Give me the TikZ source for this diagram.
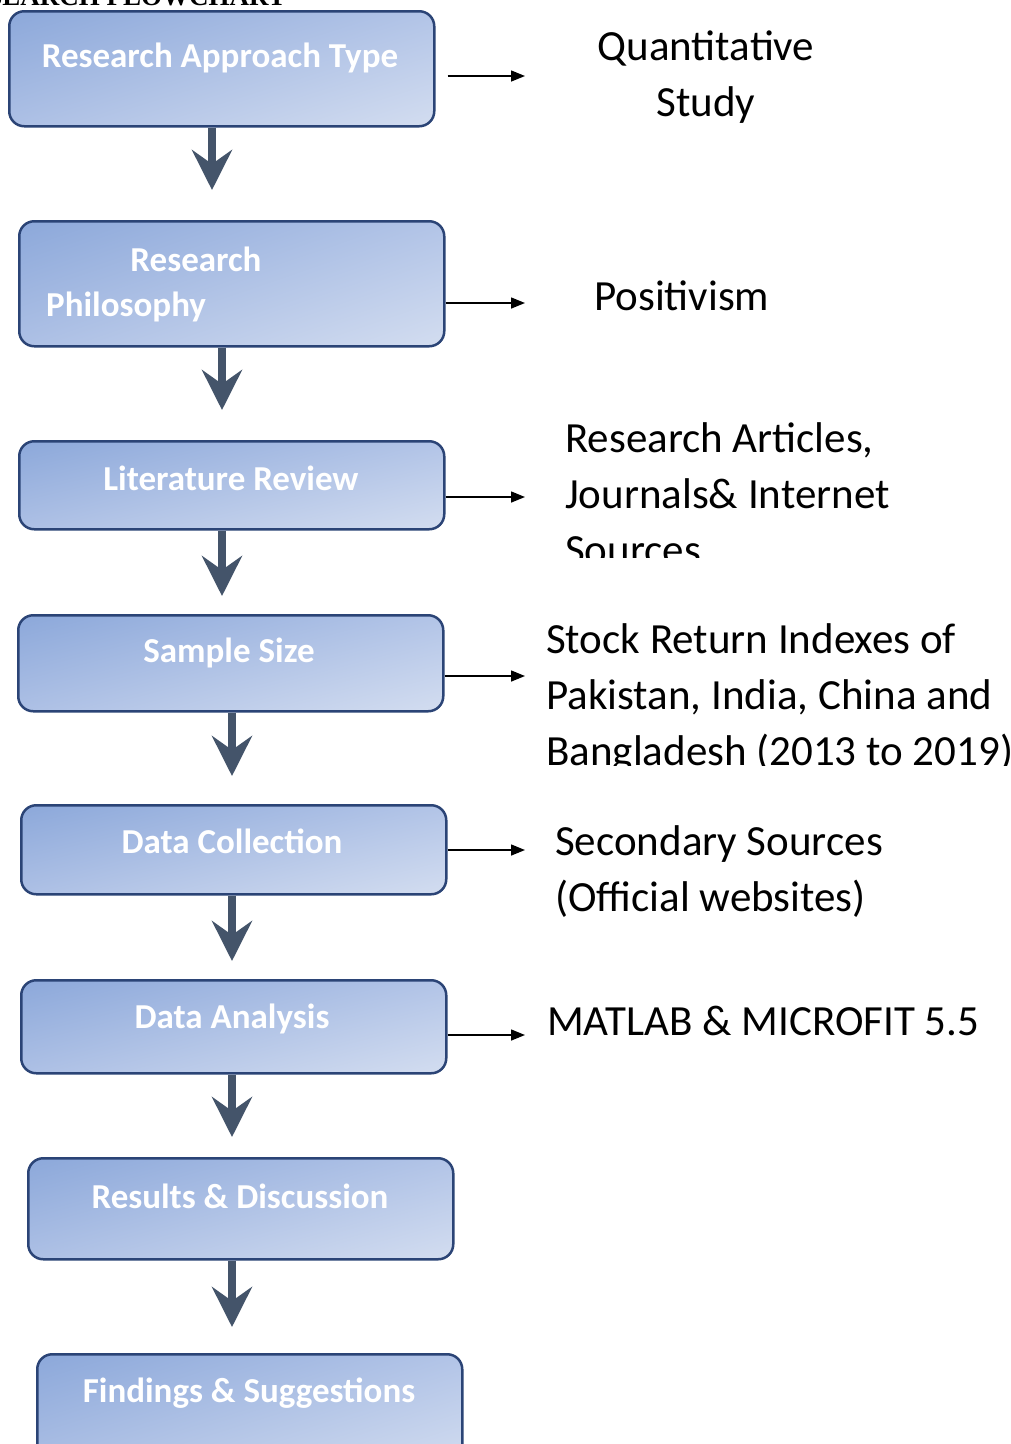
\documentclass[tikz,border=0pt]{standalone}
\usepackage{fontspec}
\setmainfont{Carlito}
\newfontfamily\titlefont{Liberation Serif}
\usetikzlibrary{arrows.meta,calc,shadings}
\definecolor{boxborder}{HTML}{2B4476}
\definecolor{boxul}{HTML}{8CA8DA}
\definecolor{boxur}{HTML}{B2C4E7}
\definecolor{boxll}{HTML}{ADC0E5}
\definecolor{boxlr}{HTML}{D3DDF0}
\definecolor{darrow}{HTML}{44546A}
\begin{document}
\begin{tikzpicture}[x=1pt,y=-1pt,
 box/.style={draw=boxborder, line width=2.5pt, rounded corners=15pt, upper left=boxul, upper right=boxur, lower left=boxll, lower right=boxlr, inner sep=0pt, anchor=north west, minimum width=425pt},
 lbl/.style={text=white, font=\bfseries\fontsize{35}{44}\selectfont, inner sep=0pt},
 rtxt/.style={font=\fontsize{43}{56}\selectfont, inner sep=0pt, anchor=base west},
 down/.style={draw=darrow, line width=8pt, -{Stealth[length=40pt,width=40pt,inset=14pt]}},
 sidearrow/.style={draw=black, line width=1.5pt, -{Triangle[length=14pt,width=11pt]}}
]
\useasboundingbox (0,0) rectangle (1011,1444);
\fill[white] (0,0) rectangle (1011,1444);

\node[font=\titlefont\bfseries\fontsize{27}{32}\selectfont, anchor=base east, inner sep=0pt] (title) at (286,5) {RESEARCH FLOWCHART};

% boxes
\node[box, minimum height=115pt] (b1) at (8,10) {};
\node[box, minimum height=125pt] (b2) at (18,220) {};
\node[box, minimum height=88pt] (b3) at (18,440) {};
\node[box, minimum height=96pt] (b4) at (17,614) {};
\node[box, minimum height=89pt] (b5) at (20,804) {};
\node[box, minimum height=93pt] (b6) at (20,979) {};
\node[box, minimum height=101pt] (b7) at (27,1157) {};
\node[box, minimum height=115pt] (b8) at (36,1353) {};

% labels
\node[lbl, anchor=base] (l1) at (220,67) {Research Approach Type};
\node[lbl, anchor=base] (l2a) at (196,271) {Research};
\node[lbl, anchor=base west] (l2b) at (46,316) {Philosophy};
\node[lbl, anchor=base] (l3) at (231,490) {Literature Review};
\node[lbl, anchor=base] (l4) at (229,662) {Sample Size};
\node[lbl, anchor=base] (l5) at (232,853) {Data Collection};
\node[lbl, anchor=base] (l6) at (232,1028) {Data Analysis};
\node[lbl, anchor=base] (l7) at (240,1208) {Results \& Discussion};
\node[lbl, anchor=base] (l8) at (249,1402) {Findings \& Suggestions};

% down arrows
\coordinate (t1) at (212,190);
\coordinate (t2) at (222,410);
\coordinate (t3) at (222,596);
\coordinate (t4) at (232,776);
\coordinate (t5) at (232,961);
\coordinate (t6) at (232,1137);
\coordinate (t7) at (232,1327);
\draw[down] (b1.south -| t1) -- (t1);
\draw[down] (b2.south -| t2) -- (t2);
\draw[down] (b3.south -| t3) -- (t3);
\draw[down] (b4.south -| t4) -- (t4);
\draw[down] (b5.south -| t5) -- (t5);
\draw[down] (b6.south -| t6) -- (t6);
\draw[down] (b7.south -| t7) -- (t7);

% side arrows
\coordinate (s1) at (525,76);
\coordinate (s2) at (525,303);
\coordinate (s3) at (525,497);
\coordinate (s4) at (525,676);
\coordinate (s5) at (525,850);
\coordinate (s6) at (525,1035);
\draw[sidearrow] ($(b1.east |- s1)+(12,0)$) -- (s1);
\draw[sidearrow] (b2.east |- s2) -- (s2);
\draw[sidearrow] (b3.east |- s3) -- (s3);
\draw[sidearrow] (b4.east |- s4) -- (s4);
\draw[sidearrow] (b5.east |- s5) -- (s5);
\draw[sidearrow] (b6.east |- s6) -- (s6);

% right texts
\node[rtxt, anchor=base] (r1a) at (706,60) {Quantitative};
\node[rtxt, anchor=base] (r1b) at (706,116) {Study};
\node[rtxt] (r2) at (594,310) {Positivism};
\node[rtxt] (r3a) at (565,452) {Research Articles,};
\node[rtxt] (r3b) at (565,508) {Journals\& Internet};
\begin{scope}
\clip (540,520) rectangle (1011,557);
\node[rtxt] (r3c) at (565,564) {Sources};
\end{scope}
\node[rtxt] (r4a) at (546,653) {Stock Return Indexes of};
\node[rtxt] (r4b) at (546,709) {Pakistan, India, China and};
\begin{scope}
\clip (530,720) rectangle (1011,765);
\node[rtxt] (r4c) at (546,765) {Bangladesh (2013 to 2019)};
\end{scope}
\node[rtxt] (r5a) at (555,855) {Secondary Sources};
\node[rtxt] (r5b) at (555,911) {(Official websites)};
\node[rtxt] (r6) at (547,1035) {MATLAB \& MICROFIT 5.5};
\end{tikzpicture}
\end{document}
